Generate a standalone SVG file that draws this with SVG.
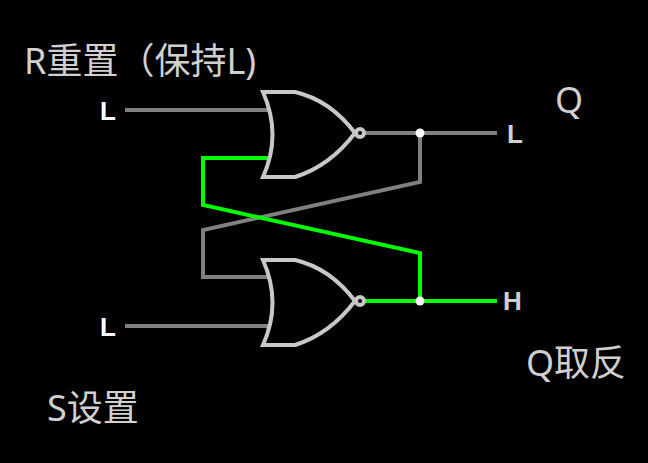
<svg xmlns="http://www.w3.org/2000/svg" width="648" height="463" viewBox="0 0 648 463">
<style>
.w{fill:none;stroke-width:4;stroke-linejoin:miter}
.g{stroke:#808080}.n{stroke:#00ff00}
.gate{fill:none;stroke:#c8c8c8;stroke-width:4}
.t{font-family:"Noto Sans","Noto Sans CJK SC",sans-serif;fill:#d0d0d0;font-size:36px}
.b{font-family:"Liberation Sans",sans-serif;font-weight:bold;font-size:26px}
</style>
<rect width="648" height="463" fill="#000"/>
<g id="connectors">
<path class="w g" d="M125 110H270M125 326H270M363 133H497M420 133V182L203 230V277H270"/>
<path class="w n" d="M270 158H203V205L420 253V301M363 301H497"/>
<circle cx="420" cy="133" r="4.5" fill="#fff"/>
<circle cx="420" cy="301" r="4.5" fill="#fff"/>
</g>
<g id="gate1"><path class="gate" d="M263 92H295Q330 100 355 133Q330 166 295 177H263Q282 135 263 92Z"/><circle class="gate" cx="360" cy="133" r="4" stroke-width="3"/></g>
<g id="gate2"><path class="gate" d="M263 260H295Q330 268 355 301Q330 334 295 345H263Q282 303 263 260Z"/><circle class="gate" cx="360" cy="301" r="4" stroke-width="3"/></g>
<text class="b" x="100" y="120" fill="#fff">L</text>
<text class="b" x="100" y="336" fill="#fff">L</text>
<text class="b" x="507" y="143" fill="#d0d0d0">L</text>
<text class="b" x="503" y="310" fill="#d0d0d0">H</text>
<text class="t" x="24" y="74">R重置（保持L)</text>
<text class="t" x="555" y="113">Q</text>
<text class="t" x="526" y="376">Q取反</text>
<text class="t" x="47" y="421">S设置</text>
</svg>
